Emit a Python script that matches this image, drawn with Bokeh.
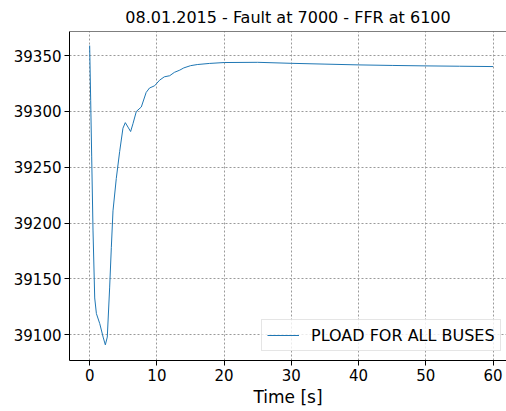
from bokeh.plotting import figure
from bokeh.models import FixedTicker, Range1d, Span, Legend, LegendItem
from bokeh.embed import file_html
from bokeh.resources import INLINE

# --- data ---
time_s = [0.0, 0.15, 0.3, 0.5, 0.75, 1.0, 1.5, 2.0, 2.33, 2.62, 2.97, 3.22, 3.47,
          3.96, 4.46, 4.95, 5.3, 5.7, 6.09, 6.44, 6.94, 7.68, 8.4, 8.9, 9.66,
          10.4, 11.1, 11.9, 12.6, 13.4, 14.0, 15.0, 16.0, 17.8, 20.0, 25.0,
          30.0, 35.0, 40.0, 45.0, 50.0, 55.0, 60.0]
pload = [39359, 39310, 39260, 39193, 39133, 39119, 39110, 39098, 39091, 39098,
         39142, 39178, 39211, 39240, 39264, 39285, 39290, 39286, 39282, 39289,
         39300, 39304, 39317, 39321, 39323, 39328, 39331, 39332, 39335, 39337,
         39339, 39341, 39342, 39343, 39343.8, 39344, 39343.1, 39342.4, 39341.7,
         39341.2, 39340.8, 39340.5, 39340.2]
x_ticks = [0, 10, 20, 30, 40, 50, 60]
y_ticks = [39100, 39150, 39200, 39250, 39300, 39350]
title_text = "08.01.2015 - Fault at 7000 - FFR at 6100"
series_name = "PLOAD FOR ALL BUSES"
x_label = "Time [s]"

FONT = "DejaVu Sans"
Y0, Y1 = 39077.0, 39371.6

p = figure(width=506, height=411, output_backend="svg", toolbar_location=None,
           x_range=Range1d(-3, 62), y_range=Range1d(Y0, Y1),
           min_border_left=69, min_border_right=0, min_border_top=29,
           min_border_bottom=51)

p.title.text = title_text
p.title.align = "center"
p.title.offset = 4
p.title.text_font = FONT
p.title.text_font_size = "16px"
p.title.text_font_style = "normal"
p.title.text_color = "#000000"

p.outline_line_color = None
p.background_fill_color = "white"
p.border_fill_color = "white"

r = p.line(time_s, pload, line_color="#1f77b4", line_width=1)

# top spine
p.add_layout(Span(location=Y1, dimension="width", line_color="black", line_width=1))

for ax in (p.xaxis[0], p.yaxis[0]):
    ax.axis_line_color = "black"
    ax.axis_line_width = 1
    ax.major_tick_out = 5
    ax.major_tick_in = 0
    ax.minor_tick_line_color = None
    ax.major_tick_line_color = "black"
    ax.major_label_text_font = FONT
    ax.major_label_text_font_size = "15px"
    ax.major_label_text_color = "#000000"
    ax.major_label_standoff = 3

p.xaxis.ticker = FixedTicker(ticks=x_ticks)
p.yaxis.ticker = FixedTicker(ticks=y_ticks)
p.xaxis.axis_label = x_label
p.xaxis.axis_label_text_font = FONT
p.xaxis.axis_label_text_font_size = "17px"
p.xaxis.axis_label_text_font_style = "normal"
p.xaxis.axis_label_text_color = "#000000"
p.xaxis.axis_label_standoff = 3

p.grid.grid_line_color = "#9a9a9a"
p.grid.grid_line_dash = "2 2"
p.grid.grid_line_width = 1
p.xgrid.ticker = FixedTicker(ticks=x_ticks)
p.ygrid.ticker = FixedTicker(ticks=y_ticks)

legend = Legend(items=[LegendItem(label=series_name, renderers=[r])],
                location=(192, 9))
legend.label_text_font = FONT
legend.label_text_font_size = "16px"
legend.label_text_color = "#000000"
legend.border_line_color = "#cccccc"
legend.border_line_width = 1
legend.background_fill_alpha = 0.8
legend.padding = 5
legend.spacing = 0
legend.glyph_width = 32
legend.label_standoff = 12
legend.margin = 0
p.add_layout(legend)

open("out.html", "w").write(file_html(p, INLINE))
